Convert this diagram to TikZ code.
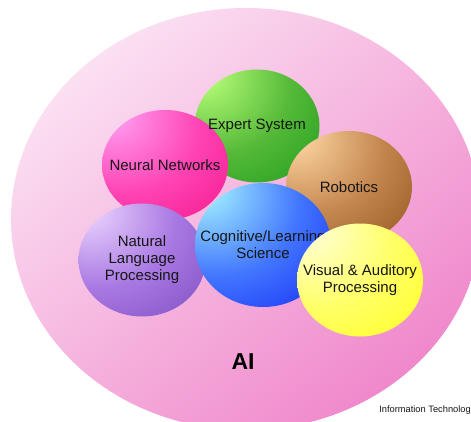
\documentclass[tikz,border=0pt]{standalone}
\usepackage{fontspec}
\setmainfont{Liberation Sans}
\usetikzlibrary{shapes.geometric}
\definecolor{bhi}{HTML}{FFFFFF}
\definecolor{bmid}{HTML}{888888}
\definecolor{blo}{HTML}{000000}
\definecolor{pkL}{HTML}{FBE0F2}
\definecolor{pkD}{HTML}{F088CB}
\definecolor{txt}{HTML}{161616}
\pgfdeclareradialshading[bhi,bmid,blo]{sphere}{\pgfpoint{-24bp}{25bp}}{color(0bp)=(bhi); color(3bp)=(bhi); color(30bp)=(bmid); color(66bp)=(blo); color(100bp)=(blo)}
\tikzset{
  sph/.style n args={3}{ellipse, inner sep=0pt, outer sep=0pt,
    /utils/exec={\definecolor{bhi}{HTML}{#1}\definecolor{bmid}{HTML}{#2}\definecolor{blo}{HTML}{#3}},
    shade, shading=sphere},
  lbl/.style={text=txt, align=center, inner sep=0pt, font=\fontsize{15}{17}\selectfont},
}
\begin{document}
\begin{tikzpicture}[x=1pt,y=-1pt]
\useasboundingbox (0,0) rectangle (471,422);
\fill[white] (0,0) rectangle (471,422);
\begin{scope}
\clip (0,0) rectangle (471,422);
\node[ellipse, minimum width=470pt, minimum height=422pt, inner sep=0pt,
      shade, top color=pkL, bottom color=pkD, shading angle=40] (ai) at (246,219) {};
\end{scope}
\node[sph={BAFF7A}{55BA38}{068A10}, minimum width=125pt, minimum height=113pt] (es) at (257,126) {};
\node[sph={FFA0F2}{FF44B4}{F00078}, minimum width=126pt, minimum height=110pt] (nn) at (165,165) {};
\node[sph={FFD8A4}{C4864F}{783C02}, minimum width=126pt, minimum height=112pt] (rob) at (349,187) {};
\node[sph={ECD4FF}{A878E2}{6A38B2}, minimum width=127pt, minimum height=113pt] (nlp) at (142,260) {};
\node[sph={A4F4FF}{4276FF}{0004F0}, minimum width=136pt, minimum height=124pt] (cls) at (263,245) {};
\node[lbl] (esT) at (es.center) {Expert System};
\node[lbl] (nnT) at (nn.center) {Neural Networks};
\node[lbl] (robT) at (rob.center) {Robotics};
\node[lbl] (nlpT) at (nlp.center) {Natural\\Language\\Processing};
\node[lbl] (clsT) at (cls.center) {Cognitive/Learning\\Science};
\node[sph={FFFFDA}{FFFF66}{FFFF00}, minimum width=126pt, minimum height=113pt] (vap) at (360,280) {};
\node[lbl] (vapT) at (vap.center) {Visual \& Auditory\\Processing};
\node[font=\bfseries\fontsize{23}{26}\selectfont, inner sep=0pt] (aiT) at (243,362) {AI};
\node[anchor=east, inner sep=0pt, text=txt, font=\fontsize{9.3}{11}\selectfont] (itT) at (471,410) {Information Technolog};
\end{tikzpicture}
\end{document}
